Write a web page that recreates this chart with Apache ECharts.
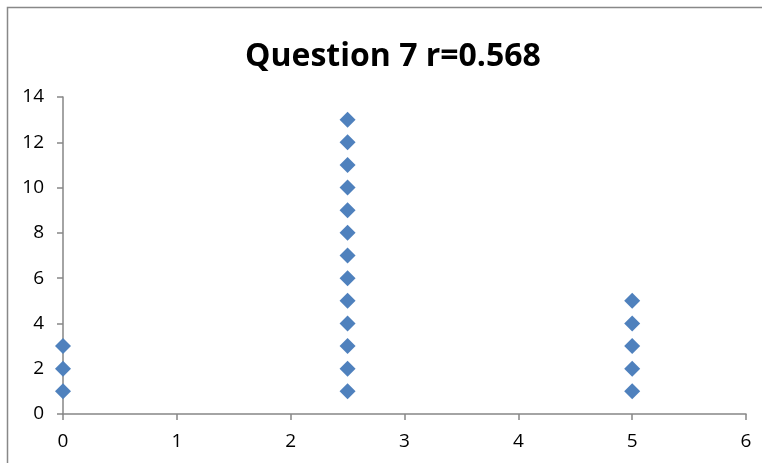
<!DOCTYPE html>
<html><head><meta charset="utf-8">
<script src="https://cdn.jsdelivr.net/npm/echarts@6/dist/echarts.min.js"></script>
<style>html,body{margin:0;padding:0;background:#fff}#c{width:762px;height:463px}</style>
</head><body><div id="c"></div>
<script>
const title = "Question 7 r=0.568";
const xValues = [0, 0, 0, 2.5, 2.5, 2.5, 2.5, 2.5, 2.5, 2.5, 2.5, 2.5, 2.5, 2.5, 2.5, 2.5, 5, 5, 5, 5, 5];
const yValues = [1, 2, 3, 1, 2, 3, 4, 5, 6, 7, 8, 9, 10, 11, 12, 13, 1, 2, 3, 4, 5];
const points = xValues.map((x, i) => [x, yValues[i]]);
const chart = echarts.init(document.getElementById('c'), null, {renderer: 'canvas'});
const axisColor = '#868686';
const font = "'Open Sans', 'Liberation Sans', sans-serif";
chart.setOption({
  animation: false,
  backgroundColor: '#fff',
  graphic: [{type: 'rect', shape: {x: 7.5, y: 7.5, width: 780, height: 480}, style: {fill: 'none', stroke: '#888', lineWidth: 1.5}, z: 100}],
  title: {text: title, left: 240, top: 36, textStyle: {fontFamily: font, fontWeight: 'bold', fontSize: 32, color: '#000'}},
  grid: {left: 63, right: 16, top: 97, bottom: 49},
  xAxis: {type: 'value', min: 0, max: 6, interval: 1, splitLine: {show: false},
    axisLine: {lineStyle: {color: axisColor, width: 1.5}}, axisTick: {length: 6, lineStyle: {color: axisColor, width: 1.5}},
    axisLabel: {fontFamily: font, fontSize: 19, color: '#000', margin: 18}},
  yAxis: {type: 'value', min: 0, max: 14, interval: 2, splitLine: {show: false},
    axisLine: {show: true, lineStyle: {color: axisColor, width: 1.5}}, axisTick: {show: true, length: 6, lineStyle: {color: axisColor, width: 1.5}},
    axisLabel: {fontFamily: font, fontSize: 19, color: '#000', margin: 19}},
  series: [{type: 'scatter', data: points, symbol: 'diamond', symbolSize: 16, itemStyle: {color: '#4F81BD', opacity: 1}}]
});
</script></body></html>
